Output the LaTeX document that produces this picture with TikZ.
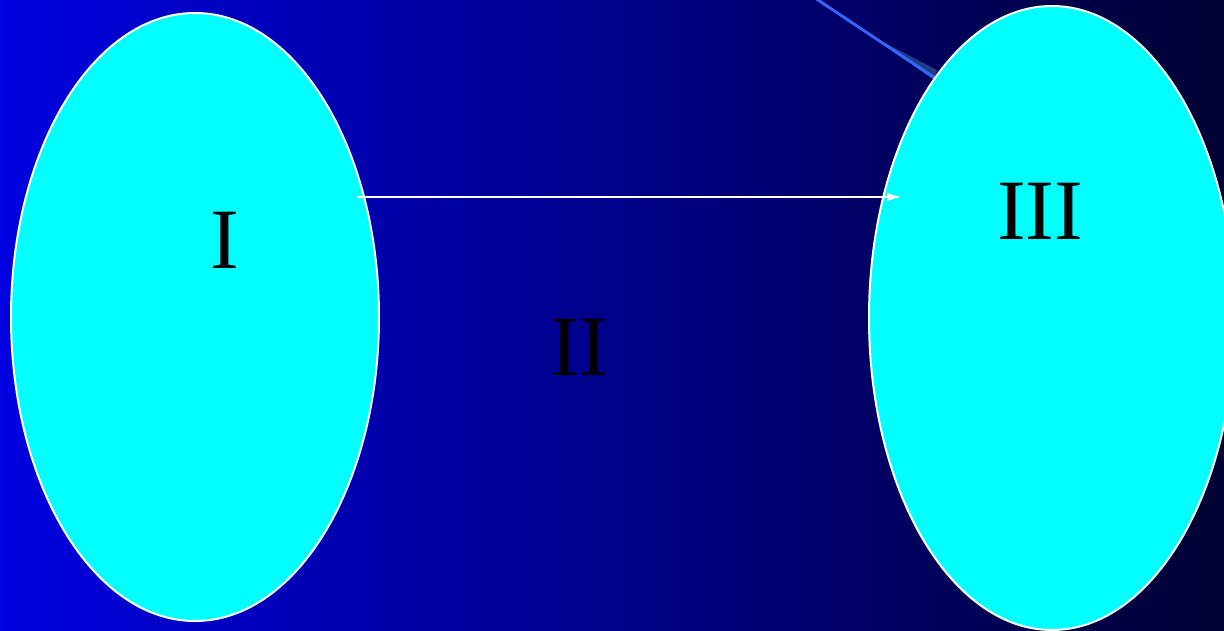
\documentclass[tikz,border=0pt]{standalone}
\usepackage{fontspec}
\setmainfont{Liberation Serif}
\usetikzlibrary{shapes.geometric,arrows.meta}
\definecolor{bgleft}{RGB}{0,0,224}
\definecolor{bgright}{RGB}{0,0,51}
\definecolor{ovalfill}{RGB}{0,255,255}
\definecolor{rayblue}{RGB}{51,102,255}
\definecolor{rayshade}{RGB}{30,60,140}
\tikzset{
  oval/.style={ellipse, draw=white, line width=2pt, fill=ovalfill, inner sep=0pt, outer sep=0pt},
  numeral/.style={text=black, inner sep=0pt, font=\fontsize{86}{90}\selectfont}
}
\begin{document}
\begin{tikzpicture}[x=1pt,y=-1pt]
\useasboundingbox (0,0) rectangle (1224,630);
\clip (0,0) rectangle (1224,630);
\shade[left color=bgleft, right color=bgright] (0,0) rectangle (1224,630);
% ray in the top corner
\fill[rayshade] (868,34) -- (937,70) -- (934,80) -- cycle;
\draw[rayblue, line width=2.8pt] (815,-2) -- (935,78);
% the two sets
\node[oval, minimum width=368pt, minimum height=608pt] (setI) at (195,317) {};
\node[oval, minimum width=366pt, minimum height=624pt] (setIII) at (1052,318) {};
\node[numeral] (labI) at (225,240) {I};
\node[numeral] (labII) at (579,347) {II};
\node[numeral] (labIII) at (1040,211) {III};
% the map
\coordinate (mapstart) at (357,197);
\coordinate (mapend) at (901,197);
\draw[white, line width=1.6pt, -{Latex[length=14pt,width=9pt]}] (mapstart) -- (mapend);
\end{tikzpicture}
\end{document}
